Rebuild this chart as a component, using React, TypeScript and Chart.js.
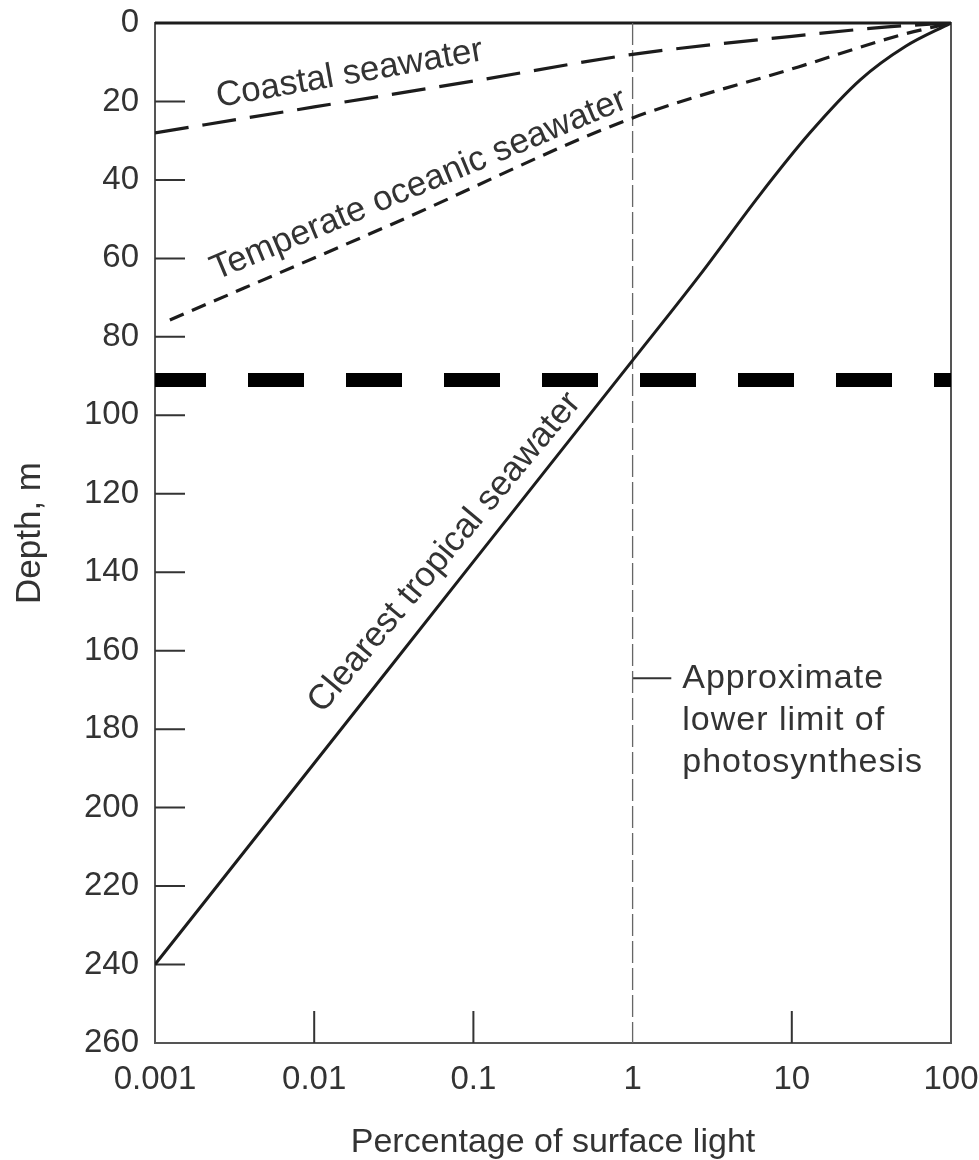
import { useEffect, useRef } from "react";
import { Chart, registerables } from "chart.js";

Chart.register(...registerables);

// Axis ticks
const X_TICKS = [0.001, 0.01, 0.1, 1, 10, 100];
const X_TICK_LABELS = ["0.001", "0.01", "0.1", "1", "10", "100"];
const Y_TICKS = [0, 20, 40, 60, 80, 100, 120, 140, 160, 180, 200, 220, 240, 260];

// Light penetration profiles: percentage of surface light vs depth (m)
const COASTAL_LIGHT = [0.001, 0.01, 0.1, 1, 10, 40, 100];
const COASTAL_DEPTH = [28.0, 21.4, 14.8, 8.0, 3.4, 1.0, 0];

const TEMPERATE_LIGHT = [0.00124, 0.03, 1, 11, 48, 100];
const TEMPERATE_DEPTH = [75.7, 51.5, 24.2, 11.2, 3.1, 0];

const TROPICAL_LIGHT = [0.001, 0.01, 0.1, 1, 2.65, 6.3, 13, 26.9, 51.6, 100];
const TROPICAL_DEPTH = [240, 188.7, 137.3, 86, 64.2, 43.8, 28.0, 14.5, 6.0, 0];

// 1 % light level and the marked depth line
const PHOTO_LIMIT_LIGHT = 1;
const MARKED_DEPTH = 91;
const LEADER_DEPTH = 167;
const LEADER_END_LIGHT = 1.75;

const NOTE_LINES = ["Approximate", "lower limit of", "photosynthesis"];
const NOTE_LIGHT = 2.05;

const CURVE_LABELS = [
  { text: "Coastal seawater", light: 0.0167, depth: 13, angle: 10 },
  { text: "Temperate oceanic seawater", light: 0.0453, depth: 41.3, angle: 22.7 },
  { text: "Clearest tropical seawater", light: 0.066, depth: 135, angle: 50.2 },
];

const SANS = '"Liberation Sans", Arial, sans-serif';
const INK = "#1c1c1c";
const TEXT = "#333333";

const toPoints = (xs: number[], ys: number[]) => xs.map((x, i) => ({ x, y: ys[i] }));

const decorations = {
  id: "decorations",
  beforeDatasetsDraw(chart: any) {
    const { ctx, chartArea: a, scales } = chart;
    const xs = scales.x;
    const ys = scales.y;
    ctx.save();

    // frame
    ctx.strokeStyle = "#555";
    ctx.lineWidth = 2;
    ctx.strokeRect(a.left, a.top, a.right - a.left, a.bottom - a.top);
    ctx.strokeStyle = INK;
    ctx.lineWidth = 3;
    ctx.beginPath();
    ctx.moveTo(a.left, a.top);
    ctx.lineTo(a.right, a.top);
    ctx.stroke();

    // inward tick marks
    ctx.strokeStyle = "#333";
    ctx.lineWidth = 2;
    ctx.beginPath();
    Y_TICKS.slice(1, -1).forEach((v) => {
      const py = ys.getPixelForValue(v);
      ctx.moveTo(a.left, py);
      ctx.lineTo(a.left + 30, py);
    });
    X_TICKS.slice(1, -1).forEach((v) => {
      if (v === PHOTO_LIMIT_LIGHT) return;
      const px = xs.getPixelForValue(v);
      ctx.moveTo(px, a.bottom);
      ctx.lineTo(px, a.bottom - 32);
    });
    ctx.stroke();

    // curve labels
    ctx.fillStyle = TEXT;
    ctx.font = `35px ${SANS}`;
    ctx.textAlign = "center";
    ctx.textBaseline = "middle";
    CURVE_LABELS.forEach((l) => {
      ctx.save();
      ctx.translate(xs.getPixelForValue(l.light), ys.getPixelForValue(l.depth));
      ctx.rotate((-l.angle * Math.PI) / 180);
      ctx.fillText(l.text, 0, 0);
      ctx.restore();
    });

    // note beside the 1 % line
    ctx.textAlign = "left";
    ctx.font = `34px ${SANS}`;
    (ctx as any).letterSpacing = "1px";
    const nx = xs.getPixelForValue(NOTE_LIGHT);
    const ny = ys.getPixelForValue(LEADER_DEPTH);
    NOTE_LINES.forEach((t, i) => ctx.fillText(t, nx, ny + i * 42));
    (ctx as any).letterSpacing = "0px";

    ctx.restore();
  },
};

export default function App() {
  const ref = useRef<HTMLCanvasElement | null>(null);

  useEffect(() => {
    document.body.style.margin = "0";
    const canvas = ref.current;
    if (!canvas) return;

    const chart = new Chart(canvas, {
      type: "line",
      data: {
        datasets: [
          {
            label: "marked depth",
            data: [
              { x: X_TICKS[0], y: MARKED_DEPTH },
              { x: X_TICKS[X_TICKS.length - 1], y: MARKED_DEPTH },
            ],
            borderColor: "#000",
            borderWidth: 14,
            borderDash: [56, 42],
            borderDashOffset: 5,
            borderCapStyle: "butt",
            pointRadius: 0,
            clip: 20,
          },
          {
            label: "Clearest tropical seawater",
            data: toPoints(TROPICAL_LIGHT, TROPICAL_DEPTH),
            borderColor: INK,
            borderWidth: 3,
            cubicInterpolationMode: "monotone",
            pointRadius: 0,
          },
          {
            label: "Temperate oceanic seawater",
            data: toPoints(TEMPERATE_LIGHT, TEMPERATE_DEPTH),
            borderColor: INK,
            borderWidth: 3.2,
            borderDash: [15, 9],
            cubicInterpolationMode: "monotone",
            pointRadius: 0,
          },
          {
            label: "Coastal seawater",
            data: toPoints(COASTAL_LIGHT, COASTAL_DEPTH),
            borderColor: INK,
            borderWidth: 3.2,
            borderDash: [34, 14],
            cubicInterpolationMode: "monotone",
            pointRadius: 0,
          },
          {
            label: "photosynthesis limit",
            data: [
              { x: PHOTO_LIMIT_LIGHT, y: Y_TICKS[0] },
              { x: PHOTO_LIMIT_LIGHT, y: Y_TICKS[Y_TICKS.length - 1] },
            ],
            borderColor: "#666",
            borderWidth: 1.3,
            borderDash: [22, 5],
            pointRadius: 0,
          },
          {
            label: "leader",
            data: [
              { x: PHOTO_LIMIT_LIGHT, y: LEADER_DEPTH },
              { x: LEADER_END_LIGHT, y: LEADER_DEPTH },
            ],
            borderColor: "#333",
            borderWidth: 2,
            pointRadius: 0,
          },
        ],
      },
      options: {
        responsive: false,
        animation: false,
        parsing: false,
        normalized: true,
        layout: { padding: { top: 23, right: 28, left: 9, bottom: 0 } },
        plugins: {
          legend: { display: false },
          tooltip: { enabled: false },
        },
        events: [],
        scales: {
          x: {
            type: "logarithmic",
            position: "bottom",
            min: X_TICKS[0],
            max: X_TICKS[X_TICKS.length - 1],
            grid: { display: false },
            border: { display: false },
            afterBuildTicks: (s: any) => {
              s.ticks = X_TICKS.map((value) => ({ value }));
            },
            afterFit: (s: any) => {
              s.height = 117;
              s.paddingLeft = 0;
              s.paddingRight = 0;
            },
            ticks: {
              autoSkip: false,
              maxRotation: 0,
              padding: 9,
              color: TEXT,
              font: { family: SANS, size: 33 },
              callback: (v: any) => {
                const i = X_TICKS.indexOf(Number(v));
                return i >= 0 ? X_TICK_LABELS[i] : "";
              },
            },
            title: {
              display: true,
              text: "Percentage of surface light",
              color: TEXT,
              font: { family: SANS, size: 34, lineHeight: 1.0 },
              padding: { top: 0, bottom: 0 },
            },
          },
          y: {
            type: "linear",
            reverse: true,
            min: Y_TICKS[0],
            max: Y_TICKS[Y_TICKS.length - 1],
            grid: { display: false },
            border: { display: false },
            afterBuildTicks: (s: any) => {
              s.ticks = Y_TICKS.map((value) => ({ value }));
            },
            afterFit: (s: any) => {
              s.width = 146;
              s.paddingTop = 0;
              s.paddingBottom = 0;
            },
            ticks: {
              autoSkip: false,
              padding: 8,
              color: TEXT,
              font: { family: SANS, size: 33 },
              callback: (v: any) => String(v),
            },
            title: {
              display: true,
              text: "Depth, m",
              color: TEXT,
              font: { family: SANS, size: 35, lineHeight: 1.2 },
              padding: { top: 0, bottom: 0 },
            },
          },
        },
      },
      plugins: [decorations],
    } as any);

    return () => chart.destroy();
  }, []);

  return (
    <div style={{ width: 979, height: 1160 }}>
      <canvas ref={ref} width={979} height={1160} style={{ display: "block" }} />
    </div>
  );
}
